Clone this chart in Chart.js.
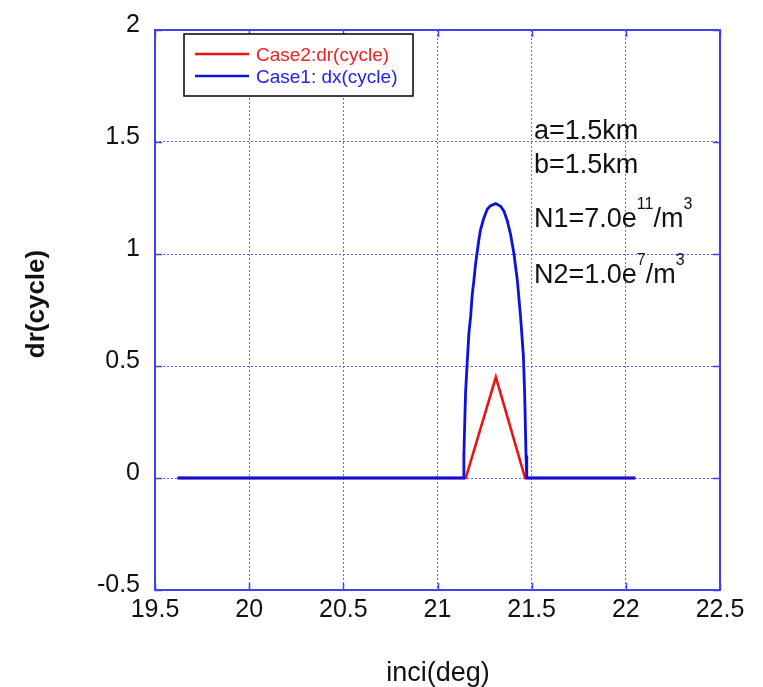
<!DOCTYPE html>
<html>
<head>
<meta charset="utf-8">
<script src="https://cdn.jsdelivr.net/npm/chart.js@4.4.0/dist/chart.umd.min.js"></script>
<style>
  html, body { margin: 0; padding: 0; background: #fff; }
  #wrap { width: 763px; height: 687px; }
</style>
</head>
<body>
<div id="wrap"><canvas id="chart" width="763" height="687"></canvas></div>
<script>
// Case1: dx(cycle) - blue
const blueX = [19.62, 21.14, 21.14, 21.149, 21.158, 21.167, 21.176, 21.184, 21.193, 21.202, 21.211, 21.22, 21.229,
  21.246, 21.264, 21.282, 21.309, 21.335, 21.353, 21.371, 21.388, 21.406, 21.424, 21.441, 21.456, 21.463, 21.47, 21.474, 22.05];
const blueY = [0, 0, 0.10, 0.38, 0.52, 0.65, 0.72, 0.815, 0.88, 0.955, 1.01, 1.066, 1.11,
  1.16, 1.20, 1.216, 1.225, 1.213, 1.191, 1.147, 1.088, 1.00, 0.882, 0.72, 0.545, 0.37, 0.10, 0, 0];

// Case2: dr(cycle) - red
const redX = [19.62, 21.15, 21.31, 21.465, 22.05];
const redY = [0, 0, 0.45, 0, 0];

const xMin = 19.5, xMax = 22.5, xStep = 0.5;
const yMin = -0.5, yMax = 2, yStep = 0.5;

const notes = ["a=1.5km", "b=1.5km"];

const toPoints = (xs, ys) => xs.map((x, i) => ({ x: x, y: ys[i] }));

const gridBlue = "#6060ff";
const frameBlue = "#4040ee";
const bigFont = "Liberation Sans, Arial, sans-serif";

const decorPlugin = {
  id: "decor",
  afterDraw(chart) {
    const ctx = chart.ctx;
    const a = chart.chartArea;
    const xs = chart.scales.x, ys = chart.scales.y;
    ctx.save();

    // inner tick marks
    ctx.strokeStyle = frameBlue;
    ctx.lineWidth = 1.5;
    for (let v = xMin; v <= xMax + 1e-9; v += xStep) {
      const px = Math.round(xs.getPixelForValue(v)) + 0.5;
      ctx.beginPath();
      ctx.moveTo(px, a.bottom); ctx.lineTo(px, a.bottom - 7);
      ctx.moveTo(px, a.top); ctx.lineTo(px, a.top + 7);
      ctx.stroke();
    }
    for (let v = yMin; v <= yMax + 1e-9; v += yStep) {
      const py = Math.round(ys.getPixelForValue(v)) + 0.5;
      ctx.beginPath();
      ctx.moveTo(a.left, py); ctx.lineTo(a.left + 7, py);
      ctx.moveTo(a.right, py); ctx.lineTo(a.right - 7, py);
      ctx.stroke();
    }

    // frame
    ctx.lineWidth = 2;
    ctx.strokeRect(a.left, a.top, a.right - a.left, a.bottom - a.top);

    // legend box
    ctx.fillStyle = "#fff";
    ctx.fillRect(184, 34, 229, 62);
    ctx.strokeStyle = "#000";
    ctx.lineWidth = 1.5;
    ctx.strokeRect(184, 34, 229, 62);
    ctx.lineWidth = 2.5;
    ctx.strokeStyle = "#ee1111";
    ctx.beginPath(); ctx.moveTo(195, 54); ctx.lineTo(249, 54); ctx.stroke();
    ctx.strokeStyle = "#1111dd";
    ctx.beginPath(); ctx.moveTo(195, 76); ctx.lineTo(249, 76); ctx.stroke();
    ctx.font = "19px " + bigFont;
    ctx.textBaseline = "alphabetic";
    ctx.textAlign = "left";
    ctx.fillStyle = "#ee2222";
    ctx.fillText("Case2:dr(cycle)", 256, 61);
    ctx.fillStyle = "#2222ee";
    ctx.fillText("Case1: dx(cycle)", 256, 83);

    // annotations
    ctx.fillStyle = "#111";
    ctx.font = "27px " + bigFont;
    ctx.fillText(notes[0], 534, 139);
    ctx.fillText(notes[1], 534, 173);
    const sup = (parts, x, y) => {
      parts.forEach(p => {
        ctx.font = (p.s ? "16px " : "27px ") + bigFont;
        ctx.fillText(p.t, x, p.s ? y - 18 : y);
        x += ctx.measureText(p.t).width;
      });
    };
    sup([{ t: "N1=7.0e" }, { t: "11", s: true }, { t: "/m" }, { t: "3", s: true }], 534, 227);
    sup([{ t: "N2=1.0e" }, { t: "7", s: true }, { t: "/m" }, { t: "3", s: true }], 534, 283);

    // axis titles
    ctx.font = "27px " + bigFont;
    ctx.textAlign = "center";
    ctx.fillText("inci(deg)", 438, 681);
    ctx.save();
    ctx.translate(44, 304);
    ctx.rotate(-Math.PI / 2);
    ctx.font = "bold 26px " + bigFont;
    ctx.fillText("dr(cycle)", 0, 0);
    ctx.restore();

    ctx.restore();
  },
};

new Chart(document.getElementById("chart"), {
  type: "line",
  data: {
    datasets: [
      {
        label: "Case1: dx(cycle)",
        data: toPoints(blueX, blueY),
        borderColor: "#1010dd",
        borderWidth: 2.8,
        pointRadius: 0,
        tension: 0,
        order: 0,
      },
      {
        label: "Case2:dr(cycle)",
        data: toPoints(redX, redY),
        borderColor: "#ee1111",
        borderWidth: 2.6,
        pointRadius: 0,
        tension: 0,
        order: 1,
      },
    ],
  },
  options: {
    responsive: false,
    animation: false,
    layout: { padding: { top: 23, right: 43, left: 0, bottom: 0 } },
    plugins: {
      legend: { display: false },
      tooltip: { enabled: false },
    },
    scales: {
      x: {
        type: "linear",
        min: xMin,
        max: xMax,
        afterFit: (scale) => { scale.height = 97; },
        grid: { color: gridBlue, lineWidth: 1, drawTicks: false },
        border: { display: false, dash: [2, 2] },
        ticks: {
          stepSize: xStep,
          padding: 5,
          color: "#111",
          font: { family: bigFont, size: 25 },
          maxRotation: 0,
          autoSkip: false,
          callback: (value) => String(value),
        },
      },
      y: {
        type: "linear",
        min: yMin,
        max: yMax,
        afterFit: (scale) => { scale.width = 155; },
        grid: { color: gridBlue, lineWidth: 1, drawTicks: false },
        border: { display: false, dash: [2, 2] },
        ticks: {
          stepSize: yStep,
          padding: 15,
          labelOffset: -5,
          color: "#111",
          font: { family: bigFont, size: 25 },
          callback: (value) => String(value),
        },
      },
    },
  },
  plugins: [decorPlugin],
});
</script>
</body>
</html>
